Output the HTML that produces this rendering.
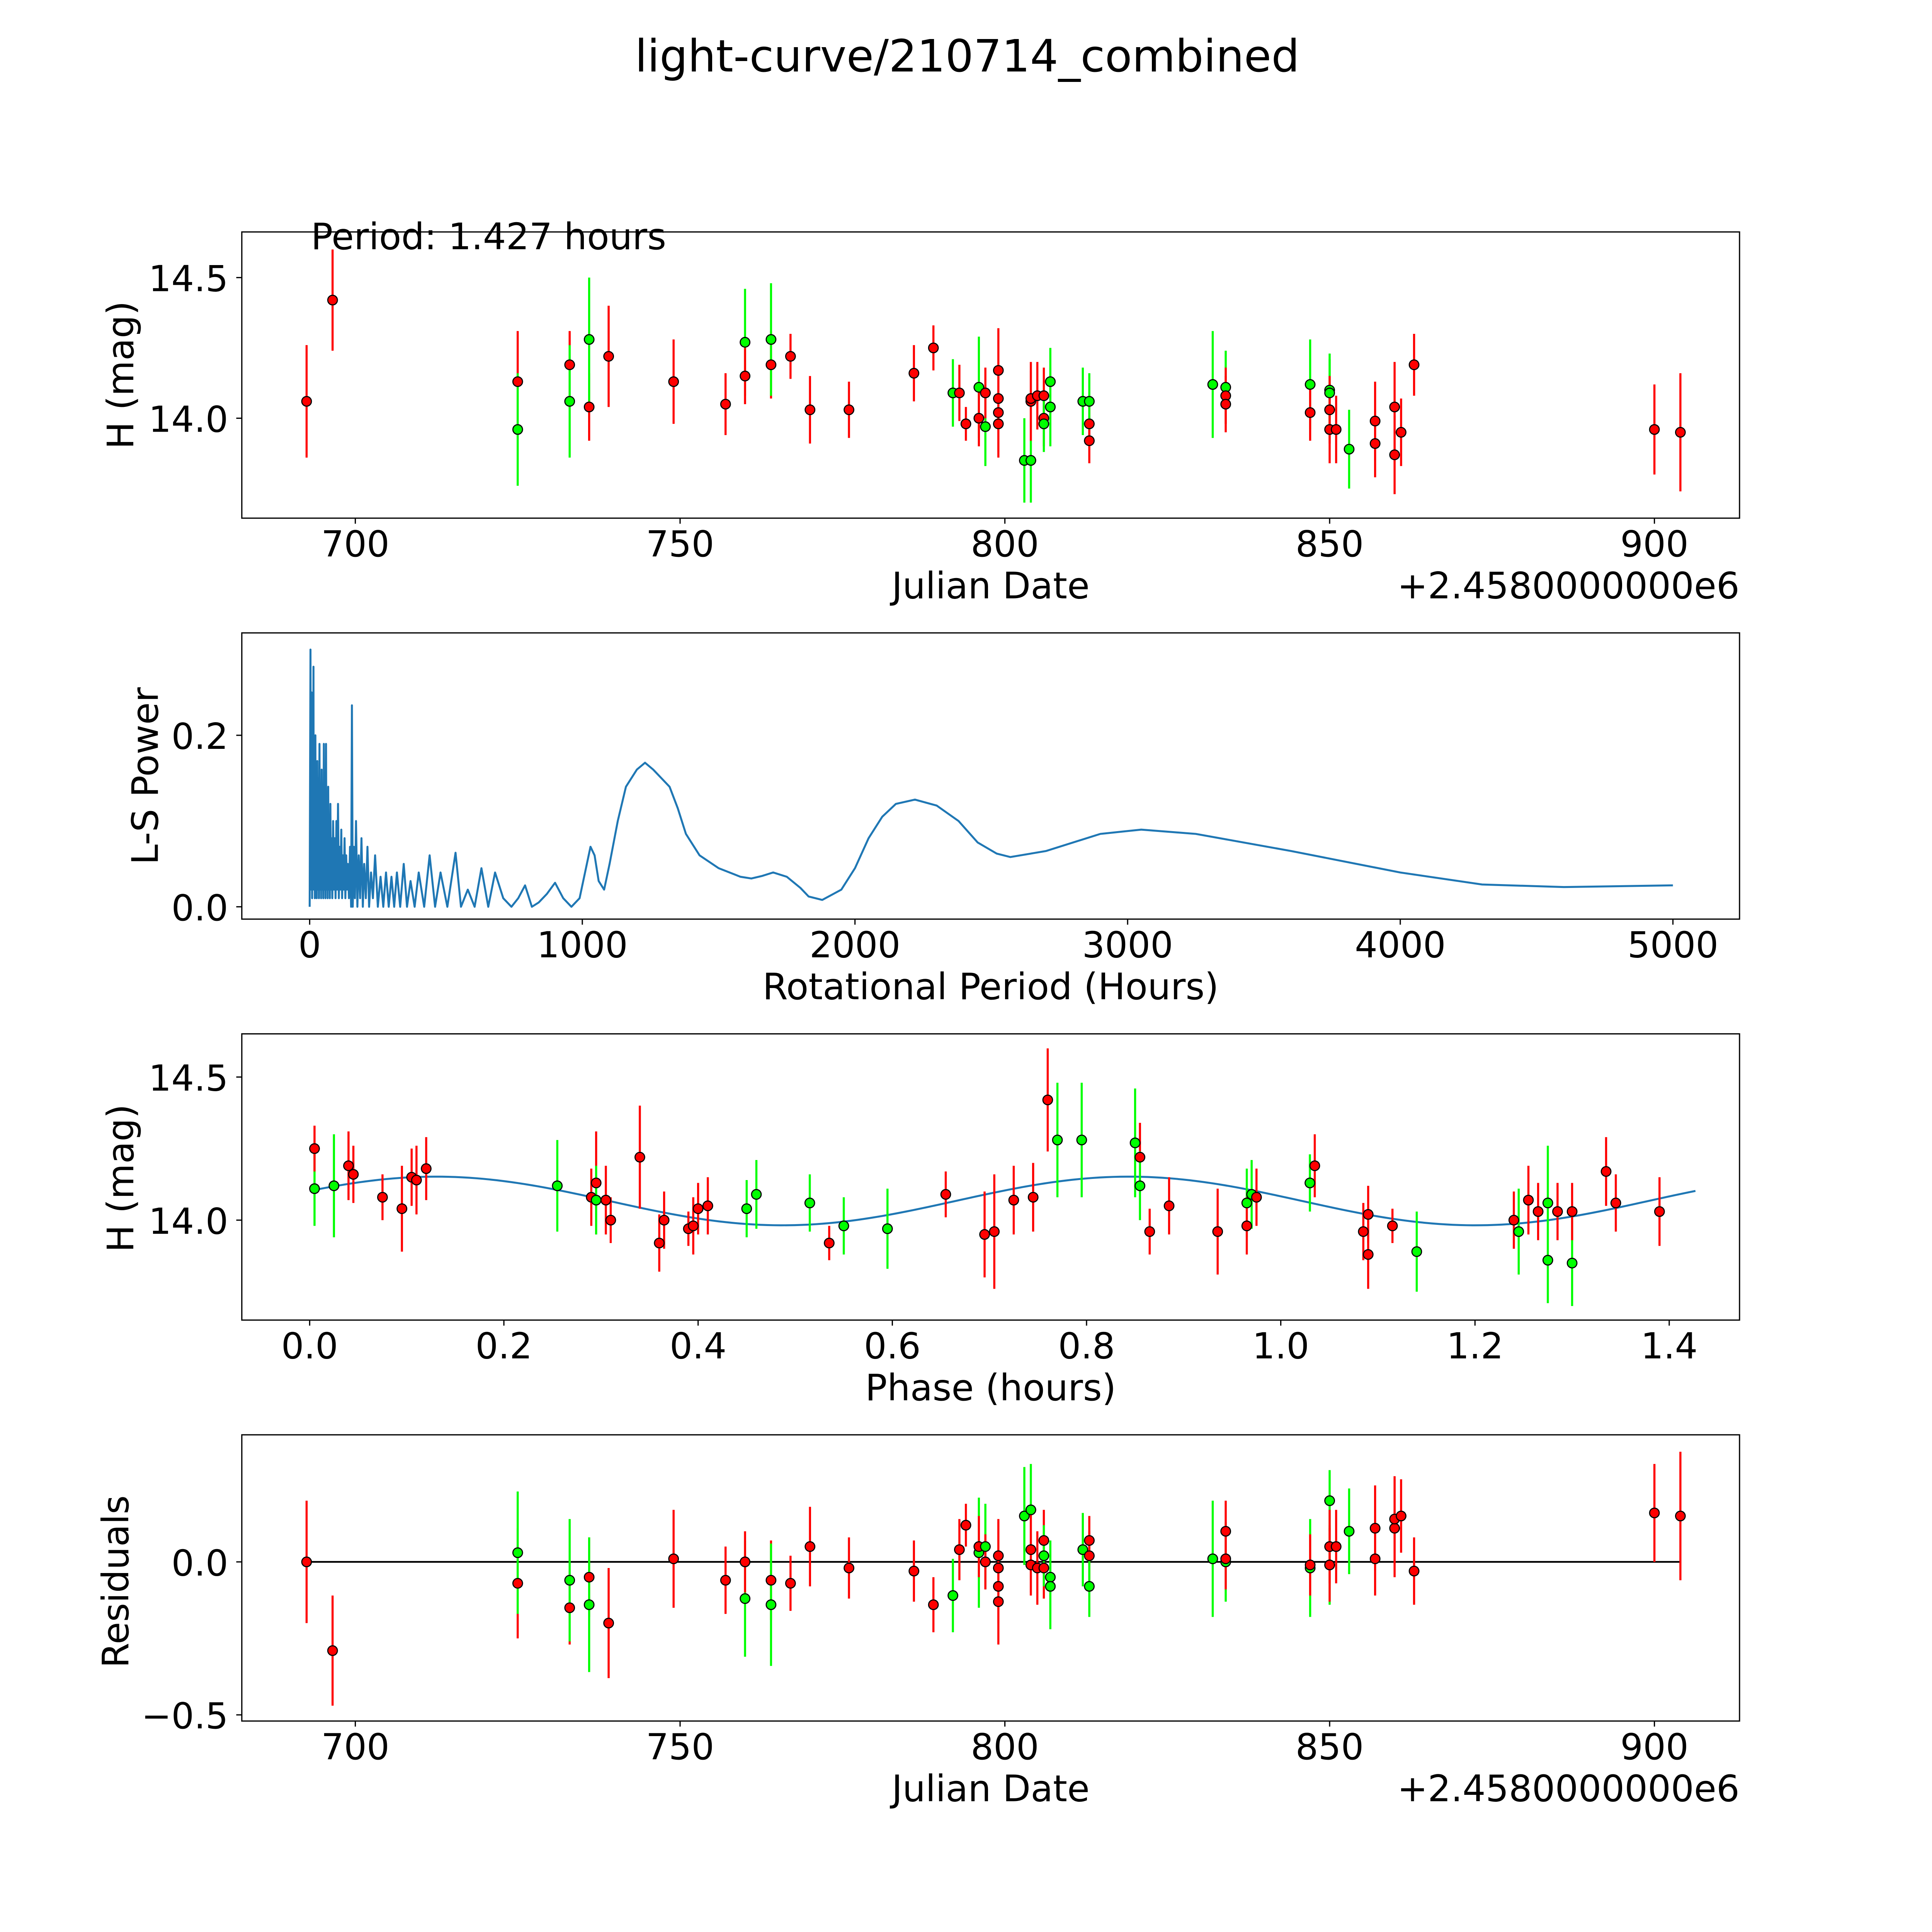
<!DOCTYPE html>
<html><head><meta charset="utf-8"><style>
html,body{margin:0;padding:0;background:#fff;overflow:hidden;width:100vw;height:100vh}
svg{display:block;width:100vw;height:100vh}
text{font-family:"DejaVu Sans","Liberation Sans",sans-serif;fill:#000}
</style></head><body>
<svg id="fig" viewBox="0 0 1566 1566" preserveAspectRatio="none" xmlns="http://www.w3.org/2000/svg">
<rect width="1566" height="1566" fill="#fff"/>
<text x="784" y="58" font-size="36" text-anchor="middle">light-curve/210714_combined</text>
</svg>
<script>
// ---- Data: light curve (JD offset, mag, err, color g/r) ----
const lcDate=[692.5,696.5,725,725,733,733,736,736,739,749,757,760,760,764,764,767,770,776,786,789,792,793,794,796,796,797,797,799,799,799,799,803,804,804,804,805,806,806,806,807,807,812,813,813,813,832,834,834,834,847,847,850,850,850,850,851,853,857,857,860,860,861,863,900,904];
const lcMag=[14.06,14.42,14.13,13.96,14.19,14.06,14.04,14.28,14.22,14.13,14.05,14.27,14.15,14.19,14.28,14.22,14.03,14.03,14.16,14.25,14.09,14.09,13.98,14.11,14.0,13.97,14.09,14.17,14.07,14.02,13.98,13.85,13.85,14.06,14.07,14.08,14.08,14.0,13.98,14.13,14.04,14.06,13.92,13.98,14.06,14.12,14.11,14.08,14.05,14.12,14.02,14.1,14.09,14.03,13.96,13.96,13.89,13.99,13.91,14.04,13.87,13.95,14.19,13.96,13.95];
const lcErr=[0.2,0.18,0.18,0.2,0.12,0.2,0.12,0.22,0.18,0.15,0.11,0.19,0.1,0.12,0.2,0.08,0.12,0.1,0.1,0.08,0.12,0.1,0.06,0.18,0.1,0.14,0.09,0.15,0.12,0.14,0.12,0.15,0.15,0.14,0.1,0.12,0.1,0.1,0.1,0.12,0.14,0.12,0.08,0.08,0.1,0.19,0.13,0.1,0.1,0.16,0.1,0.13,0.12,0.12,0.12,0.12,0.14,0.14,0.12,0.16,0.14,0.12,0.11,0.16,0.21];
const lcColor=["r","r","r","g","r","g","r","g","r","r","r","g","r","r","g","r","r","r","r","r","g","r","r","g","r","g","r","r","r","r","r","g","g","r","r","r","r","r","g","g","g","g","r","r","g","g","g","r","r","g","r","g","g","r","r","r","g","r","r","r","r","r","r","r","r"];
const resid=[0.0,-0.29,-0.07,0.03,-0.15,-0.06,-0.05,-0.14,-0.2,0.01,-0.06,-0.12,0.0,-0.06,-0.14,-0.07,0.05,-0.02,-0.03,-0.14,-0.11,0.04,0.12,0.03,0.05,0.05,0.0,-0.02,-0.08,-0.13,0.02,0.15,0.17,0.04,-0.01,-0.02,0.07,-0.02,0.02,-0.05,-0.08,0.04,0.07,0.02,-0.08,0.01,0.0,0.1,0.01,-0.02,-0.01,0.2,-0.01,-0.01,0.05,0.05,0.1,0.11,0.01,0.11,0.14,0.15,-0.03,0.16,0.15];
const residErr=[0.2,0.18,0.18,0.2,0.12,0.2,0.13,0.22,0.18,0.16,0.11,0.19,0.1,0.13,0.2,0.09,0.13,0.1,0.1,0.09,0.12,0.1,0.07,0.18,0.1,0.14,0.09,0.15,0.12,0.14,0.12,0.16,0.15,0.14,0.1,0.12,0.1,0.1,0.1,0.12,0.14,0.12,0.08,0.08,0.1,0.19,0.13,0.1,0.1,0.16,0.1,0.1,0.13,0.12,0.12,0.12,0.14,0.14,0.12,0.16,0.14,0.12,0.11,0.16,0.21];
// ---- Data: periodogram ----
const pgPeriod=[
 0,3,5,7,9,10,12,14,15,17,
 19,21,22,24,26,28,30,32,34,36,
 38,40,42,44,46,48,50,52,54,56,
 58,60,62,64,66,68,70,72,74,76,
 78,80,83,86,89,92,95,98,101,104,
 107,110,113,116,119,122,125,128,131,134,
 137,140,144,148,152,155,158,162,166,170,
 175,180,185,190,195,200,206,212,218,225,
 232,240,250,260,270,280,290,300,310,320,
 332,345,357,370,385,400,420,440,460,480,
 505,535,555,580,605,630,655,680,710,740,
 765,790,815,840,870,900,930,960,990,1010,
 1030,1045,1060,1080,1100,1130,1160,1200,1230,1260,
 1290,1320,1350,1380,1430,1500,1580,1620,1660,1700,
 1750,1800,1830,1880,1950,2000,2050,2100,2150,2220,
 2300,2380,2450,2520,2570,2700,2900,3050,3250,3600,
 4000,4300,4600,5000];
const pgPower=[
 0,0.30,0.02,0.25,0.01,0.22,0.03,0.28,0.02,0.18,
 0.01,0.2,0.03,0.16,0.01,0.17,0.02,0.15,0.01,0.19,
 0.02,0.13,0.01,0.16,0.02,0.12,0.01,0.19,0.02,0.11,
 0.01,0.19,0.02,0.1,0.01,0.14,0.02,0.1,0.01,0.12,
 0.02,0.08,0.01,0.1,0.02,0.08,0.01,0.1,0.02,0.12,
 0.01,0.07,0.02,0.09,0.01,0.06,0.02,0.08,0.01,0.06,
 0.02,0.05,0.01,0.07,0,0.235,0,0.07,0.01,0.1,
 0,0.06,0.01,0.08,0,0.05,0.01,0.07,0,0.04,
 0.01,0.06,0,0.035,0,0.04,0,0.035,0,0.04,
 0,0.05,0,0.03,0,0.04,0,0.06,0,0.04,
 0,0.063,0,0.02,0,0.045,0,0.04,0.01,0.0,
 0.01,0.025,0.0,0.005,0.015,0.028,0.01,0.0,0.01,0.04,
 0.07,0.06,0.03,0.02,0.05,0.1,0.14,0.16,0.168,0.16,
 0.15,0.14,0.115,0.085,0.06,0.045,0.035,0.033,0.036,0.04,
 0.035,0.022,0.012,0.008,0.02,0.045,0.08,0.105,0.12,0.125,
 0.118,0.1,0.075,0.062,0.058,0.065,0.085,0.09,0.085,0.065,
 0.04,0.026,0.023,0.025];
// ---- Data: phased ----
const phPhase=[0.005,0.005,0.025,0.04,0.045,0.075,0.095,0.105,0.11,0.12,0.255,0.29,0.295,0.295,0.305,0.31,0.34,0.36,0.365,0.39,0.395,0.4,0.41,0.45,0.46,0.515,0.535,0.55,0.595,0.655,0.695,0.705,0.725,0.745,0.76,0.77,0.795,0.85,0.855,0.855,0.865,0.885,0.935,0.965,0.965,0.97,0.975,1.03,1.035,1.085,1.09,1.09,1.115,1.14,1.24,1.245,1.255,1.265,1.275,1.275,1.285,1.3,1.3,1.335,1.345,1.39];
const phMag=[14.11,14.25,14.12,14.19,14.16,14.08,14.04,14.15,14.14,14.18,14.12,14.08,14.13,14.07,14.07,14.0,14.22,13.92,14.0,13.97,13.98,14.04,14.05,14.04,14.09,14.06,13.92,13.98,13.97,14.09,13.95,13.96,14.07,14.08,14.42,14.28,14.28,14.27,14.22,14.12,13.96,14.05,13.96,14.06,13.98,14.09,14.08,14.13,14.19,13.96,13.88,14.02,13.98,13.89,14.0,13.96,14.07,14.03,13.86,14.06,14.03,13.85,14.03,14.17,14.06,14.03];
const phErr=[0.13,0.08,0.18,0.12,0.1,0.08,0.15,0.1,0.12,0.11,0.16,0.1,0.18,0.12,0.12,0.08,0.18,0.1,0.1,0.06,0.1,0.09,0.1,0.1,0.12,0.1,0.06,0.1,0.14,0.08,0.15,0.2,0.12,0.12,0.18,0.2,0.2,0.19,0.12,0.12,0.08,0.1,0.15,0.12,0.1,0.12,0.1,0.1,0.11,0.1,0.12,0.1,0.06,0.14,0.1,0.15,0.12,0.1,0.15,0.2,0.1,0.15,0.1,0.12,0.1,0.12];
const phColor=["g","r","g","r","r","r","r","r","r","r","g","r","r","g","r","r","r","r","r","r","r","r","r","g","g","g","r","g","g","r","r","r","r","r","r","g","g","g","r","g","r","r","r","g","r","g","r","g","r","r","r","r","r","g","r","g","r","r","g","g","r","g","r","r","r","r"];
const modelMean=[14.067], modelAmp=[0.085], modelPeak=[0.13], modelPer=[0.7135];
const xTicksJD=[700,750,800,850,900], xTicksPG=[0,1000,2000,3000,4000,5000], xTicksPh=[0,0.2,0.4,0.6,0.8,1.0,1.2,1.4];
const yTicksMag=[14.0,14.5], yTicksPG=[0,0.2], yTicksRes=[-0.5,0];

const NS="http://www.w3.org/2000/svg", svg=document.getElementById('fig');
function el(tag,attrs,parent){const e=document.createElementNS(NS,tag);for(const k in attrs)e.setAttribute(k,attrs[k]);(parent||svg).appendChild(e);return e;}
function lin(d0,d1,r0,r1){return v=>r0+(v-d0)*(r1-r0)/(d1-d0);}
const L=196,R=1410;
function frame(g,top,bot,xs,xt,xfmt,ys,yt,yfmt){
  const fr=el('rect',{x:L,y:top,width:R-L,height:bot-top,fill:'none',stroke:'#000','stroke-width':1},g);
  
  
  xt.forEach(v=>{const x=xs(v);el('line',{x1:x,x2:x,y1:bot,y2:bot+4.5,stroke:'#000'},g);
    const t=el('text',{x:x,y:bot+31,'font-size':29,'text-anchor':'middle'},g);t.textContent=xfmt(v);
    
    });
  yt.forEach(v=>{const y=ys(v);el('line',{x1:L-4.5,x2:L,y1:y,y2:y,stroke:'#000'},g);
    const t=el('text',{x:L-11,y:y+11,'font-size':29,'text-anchor':'end'},g);t.textContent=yfmt(v);
    
    });
}
function label(g,txt,x,y,rot,name,anchor){const t=el('text',{x:x,y:y,'font-size':29.5,'text-anchor':anchor||'middle',transform:rot?`rotate(-90 ${x} ${y})`:''},g);t.textContent=txt;
  
  }
function points(g,xs,ys,X,Y,E,C){
  X.forEach((xv,i)=>{const x=xs(xv);const col=C[i]==='g'?'#00ff00':'#ff0000';
    el('line',{x1:x,x2:x,y1:ys(Y[i]-E[i]),y2:ys(Y[i]+E[i]),stroke:col,'stroke-width':1.7},g);});
  X.forEach((xv,i)=>{const col=C[i]==='g'?'#00ff00':'#ff0000';
    const c=el('circle',{cx:xs(xv),cy:ys(Y[i]),r:3.9,fill:col,stroke:'#000','stroke-width':0.9},g);
    
    });
}
const fmt1=v=>v.toFixed(1), fmtI=v=>String(v);
const minus=v=>(v<0?'\u2212':'')+Math.abs(v).toFixed(1);
// Panel 1
let g=el('g',{});  
let xs=lin(700,900,288,1341), ys=lin(14.0,14.5,339,225);
frame(g,188,420,xs,xTicksJD,fmtI,ys,yTicksMag,fmt1);
points(g,xs,ys,lcDate,lcMag,lcErr,lcColor);
label(g,'Julian Date',803,485,false,'x-axis-title');
label(g,'+2.4580000000e6',1410,485,false,'x-offset-label','end');
label(g,'H (mag)',108,304,true,'y-axis-title');
label(g,'Period: 1.427 hours',252,202,false,'period-annotation','start');
// Panel 2
g=el('g',{});  
xs=lin(0,5000,251,1356); ys=lin(0,0.2,735,596);
frame(g,513,745,xs,xTicksPG,fmtI,ys,yTicksPG,fmt1);
const pl=el('polyline',{points:pgPeriod.map((p,i)=>xs(p)+','+ys(pgPower[i])).join(' '),fill:'none',stroke:'#1f77b4','stroke-width':1.6,'stroke-linejoin':'round'},g);


label(g,'Rotational Period (Hours)',803,810,false,'x-axis-title');
label(g,'L-S Power',128,629,true,'y-axis-title');
// Panel 3
g=el('g',{});  
xs=lin(0,1.4,251,1353); ys=lin(14.0,14.5,989,873);
frame(g,838,1070,xs,xTicksPh,fmt1,ys,yTicksMag,fmt1);
let pts=[];for(let i=0;i<=200;i++){const p=1.427*i/200;pts.push(xs(p)+','+ys(modelMean[0]+modelAmp[0]*Math.cos(2*Math.PI*(p-modelPeak[0])/modelPer[0])));}
const ml=el('polyline',{points:pts.join(' '),fill:'none',stroke:'#1f77b4','stroke-width':1.6},g);


points(g,xs,ys,phPhase,phMag,phErr,phColor);
label(g,'Phase (hours)',803,1135,false,'x-axis-title');
label(g,'H (mag)',108,955,true,'y-axis-title');
// Panel 4
g=el('g',{});  
xs=lin(700,900,288,1341); ys=lin(0,-0.5,1266,1390);
frame(g,1163,1395,xs,xTicksJD,fmtI,ys,yTicksRes,minus);
const zl=el('line',{x1:xs(692.5),x2:xs(904),y1:ys(0),y2:ys(0),stroke:'#000','stroke-width':1.4},g);


points(g,xs,ys,lcDate,resid,residErr,lcColor);
label(g,'Julian Date',803,1460,false,'x-axis-title');
label(g,'+2.4580000000e6',1410,1460,false,'x-offset-label','end');
label(g,'Residuals',104,1282,true,'y-axis-title');
</script>
</body></html>
